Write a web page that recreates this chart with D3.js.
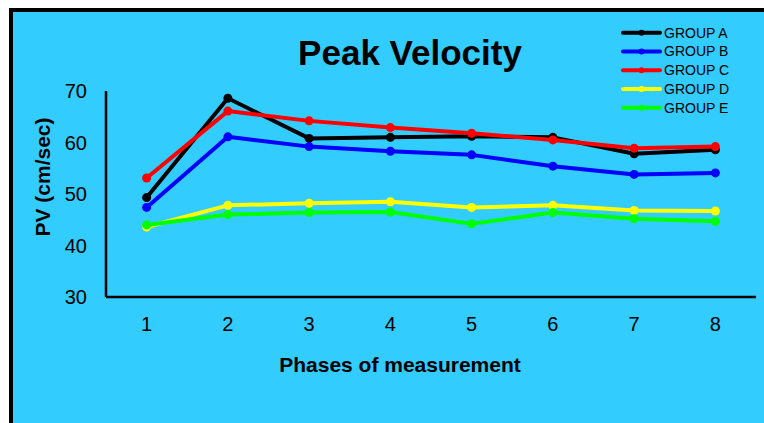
<!DOCTYPE html>
<html>
<head>
<meta charset="utf-8">
<script src="https://cdn.jsdelivr.net/npm/d3@7"></script>
<style>
  html, body { margin: 0; padding: 0; background: #ffffff; }
  svg { display: block; }
  text { font-family: "Liberation Sans", Arial, sans-serif; }
</style>
</head>
<body>
<svg id="chart" width="764" height="423"></svg>
<script>
const phases = ["1", "2", "3", "4", "5", "6", "7", "8"];
const seriesNames = ["GROUP A", "GROUP B", "GROUP C", "GROUP D", "GROUP E"];
const groupA = [49.3, 68.6, 60.8, 61.0, 61.2, 61.0, 57.8, 58.6];
const groupB = [47.4, 61.1, 59.2, 58.3, 57.6, 55.4, 53.8, 54.1];
const groupC = [53.1, 66.1, 64.2, 62.9, 61.8, 60.5, 58.9, 59.2];
const groupD = [43.6, 47.8, 48.2, 48.5, 47.4, 47.8, 46.8, 46.7];
const groupE = [44.0, 46.0, 46.4, 46.5, 44.2, 46.4, 45.2, 44.7];
const yTicks = [30, 40, 50, 60, 70];
const colors = ["#000000", "#0000ff", "#ff0000", "#ffff00", "#00ff00"];

const allSeries = [groupA, groupB, groupC, groupD, groupE];

const svg = d3.select("#chart");

// Background panel with border
svg.append("rect")
  .attr("x", 11).attr("y", 10)
  .attr("width", 800).attr("height", 450)
  .attr("fill", "#33ccff")
  .attr("stroke", "#000").attr("stroke-width", 4);

const x = d3.scaleBand().domain(phases).range([106, 756]);
const y = d3.scaleLinear().domain([30, 70]).range([297, 91]);

// Axes lines
svg.append("line")
  .attr("x1", 106).attr("x2", 106)
  .attr("y1", y(70)).attr("y2", y(30))
  .attr("stroke", "#000").attr("stroke-width", 2.5);
svg.append("line")
  .attr("x1", 106).attr("x2", 756)
  .attr("y1", y(30)).attr("y2", y(30))
  .attr("stroke", "#000").attr("stroke-width", 2.5);

// Y tick labels
svg.selectAll(".ytick").data(yTicks).enter().append("text")
  .attr("x", 87).attr("y", d => y(d))
  .attr("dy", "0.36em")
  .attr("text-anchor", "end")
  .attr("font-size", 20)
  .attr("fill", "#000")
  .text(d => d);

// X tick labels
svg.selectAll(".xtick").data(phases).enter().append("text")
  .attr("x", d => x(d) + x.bandwidth() / 2)
  .attr("y", 331)
  .attr("text-anchor", "middle")
  .attr("font-size", 20)
  .attr("fill", "#000")
  .text(d => d);

// Title
svg.append("text")
  .attr("x", 410).attr("y", 65)
  .attr("text-anchor", "middle")
  .attr("font-size", 35).attr("font-weight", "bold")
  .text("Peak Velocity");

// Axis titles
svg.append("text")
  .attr("x", 400).attr("y", 372)
  .attr("text-anchor", "middle")
  .attr("font-size", 21).attr("font-weight", "bold")
  .text("Phases of measurement");

svg.append("text")
  .attr("transform", "translate(50,177) rotate(-90)")
  .attr("text-anchor", "middle")
  .attr("font-size", 21).attr("font-weight", "bold")
  .text("PV (cm/sec)");

// Lines
const line = d3.line()
  .x((d, i) => x(phases[i]) + x.bandwidth() / 2)
  .y(d => y(d));

allSeries.forEach((vals, si) => {
  const g = svg.append("g");
  g.append("path")
    .attr("d", line(vals))
    .attr("fill", "none")
    .attr("stroke", colors[si])
    .attr("stroke-width", 4)
    .attr("stroke-linejoin", "round");
  g.selectAll("circle").data(vals).enter().append("circle")
    .attr("cx", (d, i) => x(phases[i]) + x.bandwidth() / 2)
    .attr("cy", d => y(d))
    .attr("r", 4.5)
    .attr("fill", colors[si]);
});

// Legend
const legend = svg.append("g");
seriesNames.forEach((name, i) => {
  const ly = 32.7 + i * 18.75;
  legend.append("line")
    .attr("x1", 623).attr("x2", 660)
    .attr("y1", ly).attr("y2", ly)
    .attr("stroke", colors[i]).attr("stroke-width", 4)
    .attr("stroke-linecap", "round");
  legend.append("circle")
    .attr("cx", 641.5).attr("cy", ly).attr("r", 3)
    .attr("fill", colors[i]);
  legend.append("text")
    .attr("x", 664).attr("y", ly)
    .attr("dy", "0.36em")
    .attr("font-size", 14)
    .attr("fill", "#000")
    .text(name);
});
</script>
</body>
</html>
